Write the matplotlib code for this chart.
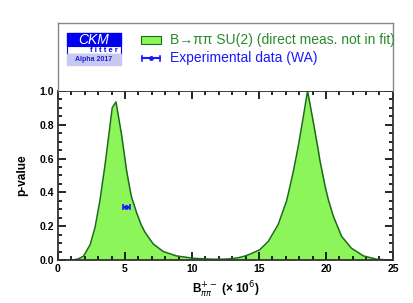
import matplotlib
matplotlib.use("Agg")
import matplotlib.pyplot as plt
from matplotlib.patches import Rectangle
from matplotlib.ticker import MultipleLocator

plt.rcParams['font.family'] = ['Liberation Sans', 'DejaVu Sans']

# p-value scan
bpp = [0, 1.1, 1.5, 1.9, 2.4, 2.76, 3.13, 3.51, 3.83, 4.05, 4.33, 4.75, 5.12,
       5.37, 5.5, 5.87, 6.2, 6.49, 7.11, 7.86, 8.85, 10.1, 11.0, 11.8, 12.5,
       13.0, 13.5, 14.0, 14.5, 15.07, 15.7, 16.44, 17.07, 17.56, 17.93, 18.3,
       18.63, 19.05, 19.43, 19.55, 19.93, 20.17, 20.55, 21.17, 21.9, 22.8, 23.8,
       24.8, 25.0]
pval = [0, 0, 0.006, 0.022, 0.09, 0.19, 0.35, 0.56, 0.76, 0.90, 0.935, 0.74,
        0.53, 0.42, 0.37, 0.28, 0.21, 0.165, 0.095, 0.05, 0.024, 0.01, 0.006,
        0.004, 0.005, 0.008, 0.014, 0.024, 0.04, 0.061, 0.11, 0.21, 0.35, 0.52,
        0.67, 0.84, 1.0, 0.82, 0.65, 0.59, 0.44, 0.36, 0.26, 0.14, 0.07, 0.024,
        0.004, 0.0, 0.0]

# world average measurement
exp_x = 5.1
exp_err = 0.27
exp_y = 0.315

green_fill = '#8cf55a'
green_edge = '#1b6b1b'
blue = '#1a1aff'

fig = plt.figure(figsize=(4.14, 3.03), dpi=100)
ax = fig.add_axes([0.140, 0.142, 0.809, 0.558])

ax.fill_between(bpp, pval, 0, color=green_fill, lw=0)
ax.plot(bpp, pval, color=green_edge, lw=1.1)
ax.errorbar([exp_x], [exp_y], xerr=[exp_err], fmt='o', ms=2.5, color=blue,
            capsize=2, elinewidth=1.5, capthick=1.2)

ax.set_xlim(0, 25)
ax.set_ylim(0, 1.0)
ax.xaxis.set_major_locator(MultipleLocator(5))
ax.xaxis.set_minor_locator(MultipleLocator(1))
ax.yaxis.set_major_locator(MultipleLocator(0.2))
ax.yaxis.set_minor_locator(MultipleLocator(0.05))
ax.tick_params(which='both', direction='in', top=True, right=True, width=1.2)
ax.tick_params(which='major', length=6, labelsize=7.5, pad=3)
ax.tick_params(which='minor', length=3)
for lab in ax.get_xticklabels() + ax.get_yticklabels():
    lab.set_fontweight('bold')
ax.set_yticks([0, 0.2, 0.4, 0.6, 0.8, 1.0])
ax.set_yticklabels(['0.0', '0.2', '0.4', '0.6', '0.8', '1.0'], fontweight='bold')
for s in ax.spines.values():
    s.set_linewidth(1.3)
    s.set_color('#333333')

ax.set_ylabel('p-value', fontsize=8.5, fontweight='bold', labelpad=8)
ax.set_xlabel(r'B$^{+-}_{\pi\pi}$ (× 10$^6$)', fontsize=8.5,
              fontweight='bold', labelpad=4)

# legend / header panel above the plot
top = fig.add_axes([0.140, 0.700, 0.809, 0.224])
top.set_xticks([])
top.set_yticks([])
for s in top.spines.values():
    s.set_color('#888888')
    s.set_linewidth(1.0)
top.spines['bottom'].set_visible(False)
top.set_xlim(0, 1)
top.set_ylim(0, 1)

def fx(px):
    return px / 414.0

def fy(py):
    return 1 - py / 303.0

# CKMfitter logo
fig.patches.append(Rectangle((fx(67), fy(46)), fx(54), fy(33) - fy(46),
                             transform=fig.transFigure, color='#0000ee', zorder=5))
fig.patches.append(Rectangle((fx(67), fy(54)), fx(54), fy(46) - fy(54),
                             transform=fig.transFigure, facecolor='white',
                             edgecolor='#0000ee', lw=0.8, zorder=5))
fig.patches.append(Rectangle((fx(67), fy(65)), fx(54), fy(54) - fy(65),
                             transform=fig.transFigure, color='#c8c8f4', zorder=5))
fig.text(fx(94), fy(39.5), 'CKM', color='white', fontsize=10, style='italic',
         ha='center', va='center', zorder=6)
fig.text(fx(104), fy(50.3), 'f i t t e r', color='#0000ee', fontsize=5.5,
         fontweight='bold', ha='center', va='center', zorder=6)
fig.text(fx(94), fy(59.7), 'Alpha 2017', color='#2020c0', fontsize=5,
         fontweight='bold', ha='center', va='center', zorder=6)

# legend entries
fig.patches.append(Rectangle((fx(141), fy(43.5)), fx(20), fy(36) - fy(43.5),
                             transform=fig.transFigure, facecolor=green_fill,
                             edgecolor=green_edge, lw=0.8, zorder=5))
fig.text(fx(170), fy(40), 'B→ππ SU(2) (direct meas. not in fit)', color='#2a8a2a',
         fontsize=10, ha='left', va='center', zorder=6)
fig.lines.append(plt.Line2D([fx(142), fx(160)], [fy(58.5), fy(58.5)],
                            transform=fig.transFigure, color=blue, lw=1.5))
fig.lines.append(plt.Line2D([fx(151)], [fy(58.5)], transform=fig.transFigure,
                            color=blue, marker='o', ms=2.5))
for xe in (142, 160):
    fig.lines.append(plt.Line2D([fx(xe), fx(xe)], [fy(56), fy(61)],
                                transform=fig.transFigure, color=blue, lw=1.2))
fig.text(fx(170), fy(58.5), 'Experimental data (WA)', color=blue,
         fontsize=10, ha='left', va='center', zorder=6)

fig.savefig('out.png', dpi=100)
